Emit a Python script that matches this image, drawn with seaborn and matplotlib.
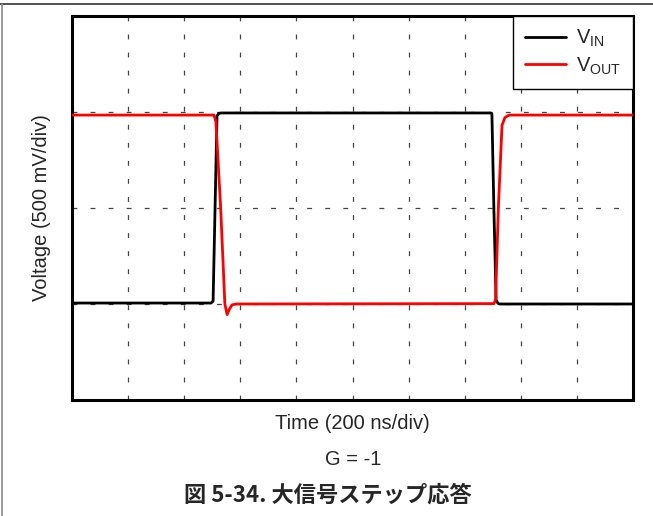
import numpy as np
import pandas as pd
import matplotlib
matplotlib.use('Agg')
import matplotlib.pyplot as plt
import seaborn as sns
from matplotlib.ticker import MultipleLocator
from matplotlib.lines import Line2D

# Waveform breakpoints (time in ns, voltage in V)
t_in = [0, 496, 503, 510, 517, 524, 535, 1492, 1497, 1504, 1512, 1519, 1525, 2000]
v_in = [-0.495, -0.495, -0.485, 0.0, 0.48, 0.493, 0.495, 0.495, 0.49, 0.0, -0.48, -0.497, -0.5, -0.5]

t_out = [0, 506, 513, 530, 545, 553, 560, 570, 585, 1504, 1510, 1520, 1533, 1543, 1553, 1561, 2000]
v_out = [0.484, 0.484, 0.45, 0.0, -0.50, -0.555, -0.53, -0.505, -0.50, -0.498, -0.48, 0.0, 0.43, 0.47, 0.48, 0.484, 0.484]

labels = ['V$_{IN}$', 'V$_{OUT}$']
colors = ['black', '#ff0000']

sns.set_style('white')
plt.rcParams['font.family'] = ['Liberation Sans', 'DejaVu Sans']
plt.rcParams['mathtext.default'] = 'regular'
plt.rcParams['lines.scale_dashes'] = False

fig = plt.figure(figsize=(6.53, 5.16), dpi=100)
ax = fig.add_axes([72/653, 1-400/516, 561/653, 384/516])

df_in = pd.DataFrame({'t': t_in, 'v': v_in})
df_out = pd.DataFrame({'t': t_out, 'v': v_out})
sns.lineplot(data=df_in, x='t', y='v', color=colors[0], lw=2.0, sort=False,
             estimator=None, ax=ax, zorder=3)
sns.lineplot(data=df_out, x='t', y='v', color=colors[1], lw=2.0, sort=False,
             estimator=None, ax=ax, zorder=4)

ax.set_xlim(0, 2000)
ax.set_ylim(-1, 1)
ax.xaxis.set_major_locator(MultipleLocator(200))
ax.yaxis.set_major_locator(MultipleLocator(0.5))
ax.tick_params(length=0, labelbottom=False, labelleft=False)
ax.grid(True, color='#444444', lw=0.9, linestyle=(0, (3.5, 9.5)), zorder=1)
for s in ax.spines.values():
    s.set_linewidth(2.2)
    s.set_color('black')

ax.set_xlabel('Time (200 ns/div)', fontsize=14.5, labelpad=10)
ax.set_ylabel('Voltage (500 mV/div)', fontsize=14.5, labelpad=15)

handles = [Line2D([], [], color=c, lw=2.0) for c in colors]
leg = ax.legend(handles, labels, loc='upper right', fontsize=14.5, borderaxespad=0,
                fancybox=False, framealpha=1, edgecolor='black', borderpad=0.6,
                handlelength=2.0, handletextpad=0.5, labelspacing=0.3)
leg.get_frame().set_linewidth(1.0)
leg.set_zorder(5)

fig.text(353/653, 1-465/516, 'G = -1', ha='center', va='baseline', fontsize=14.5)
fig.text(328/653, 1-495/516, '図 5-34. 大信号ステップ応答', ha='center', va='center',
         fontsize=16, fontweight='bold', family=['Noto Sans CJK JP', 'DejaVu Sans'])

# page border lines around the figure
fig.add_artist(Line2D([0, 1], [1-4/516, 1-4/516], color='#333333', lw=1.2))
fig.add_artist(Line2D([1.5/653, 1.5/653], [0, 1-4/516], color='#888888', lw=1.2))

fig.savefig('out.png', dpi=100)
